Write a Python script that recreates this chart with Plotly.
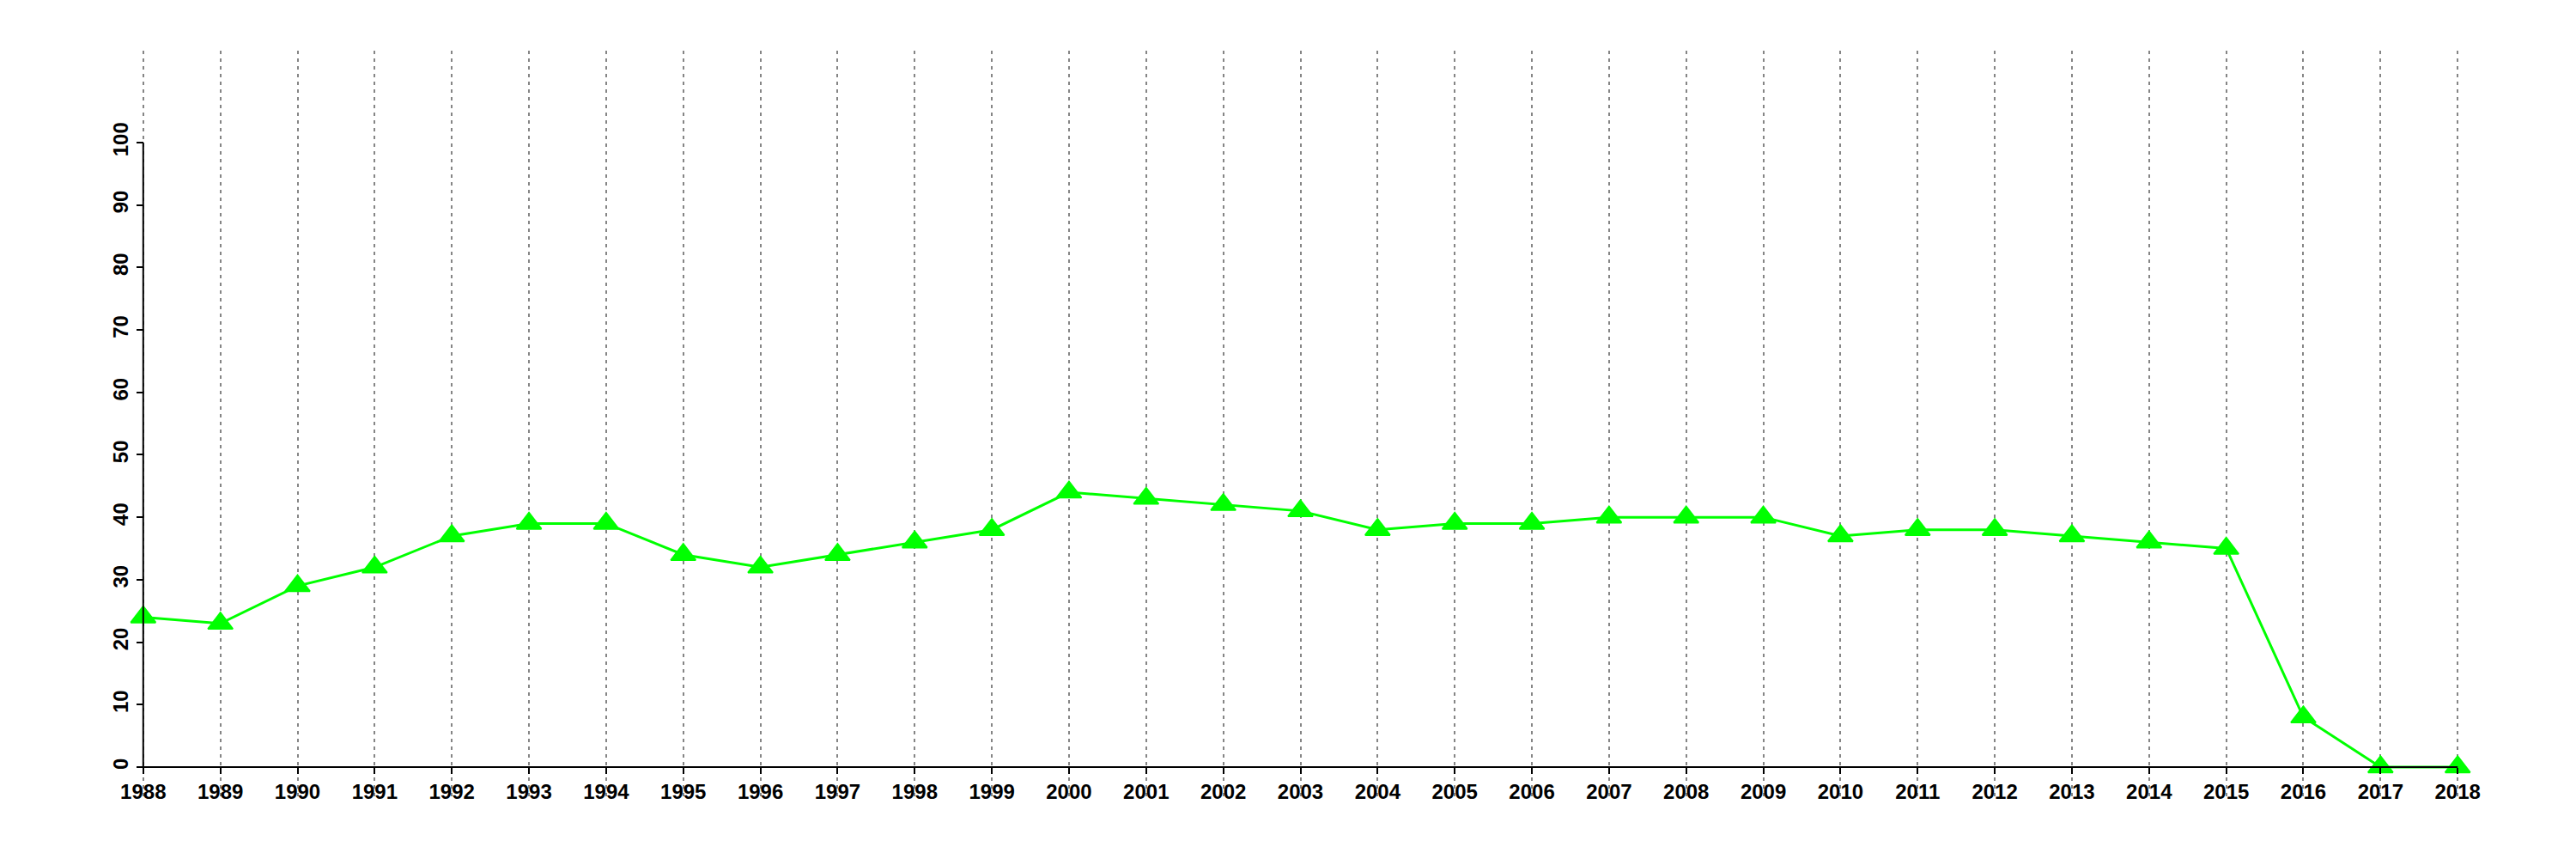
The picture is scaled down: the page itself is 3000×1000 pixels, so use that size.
import plotly.graph_objects as go

years = list(range(1988, 2019))
values = [24, 23, 29, 32, 37, 39, 39, 34, 32, 34, 36, 38, 44, 43, 42, 41, 38, 39, 39,
          40, 40, 40, 37, 38, 38, 37, 36, 35, 8, 0, 0]
y_ticks = [0, 10, 20, 30, 40, 50, 60, 70, 80, 90, 100]

x_range = [1986.8, 2019.2]
y_range = [-4.68, 114.7]

fig = go.Figure()
fig.add_trace(go.Scatter(
    x=years, y=values, mode="lines+markers",
    line=dict(color="#00ff00", width=3),
    marker=dict(symbol="triangle-up", size=25, color="#00ff00",
                line=dict(color="#00ff00", width=2)),
    showlegend=False, hoverinfo="x+y",
))

tickfont = dict(family="Liberation Sans, Arial, sans-serif", size=24, color="black", weight="bold")

x_pos = (0 - y_range[0]) / (y_range[1] - y_range[0])
y_pos = (years[0] - x_range[0]) / (x_range[1] - x_range[0])

fig.update_layout(
    width=3000, height=1000,
    paper_bgcolor="white", plot_bgcolor="white",
    margin=dict(l=51, r=38, t=51, b=81),
    xaxis=dict(
        range=x_range, tickvals=years, ticktext=[str(y) for y in years],
        showgrid=True, gridcolor="#858585", gridwidth=2, griddash="4px,5px",
        zeroline=False, showline=False,
        ticks="outside", ticklen=7, tickwidth=2, tickcolor="black",
        tickfont=tickfont, anchor="free", position=x_pos, tickangle=0,
    ),
    yaxis=dict(
        range=y_range, tickvals=y_ticks, ticktext=[str(v) for v in y_ticks],
        showgrid=False, zeroline=False, showline=False,
        ticks="outside", ticklen=8, tickwidth=2, tickcolor="black",
        tickfont=tickfont, tickangle=-90, anchor="free", position=y_pos,
    ),
    shapes=[
        dict(type="line", xref="x", yref="y", x0=years[0], x1=years[0],
             y0=y_ticks[0], y1=y_ticks[-1], line=dict(color="black", width=2), layer="above"),
        dict(type="line", xref="x", yref="y", x0=years[0], x1=years[-1],
             y0=y_ticks[0], y1=y_ticks[0], line=dict(color="black", width=2), layer="above"),
    ],
)

fig.write_html("out.html")
